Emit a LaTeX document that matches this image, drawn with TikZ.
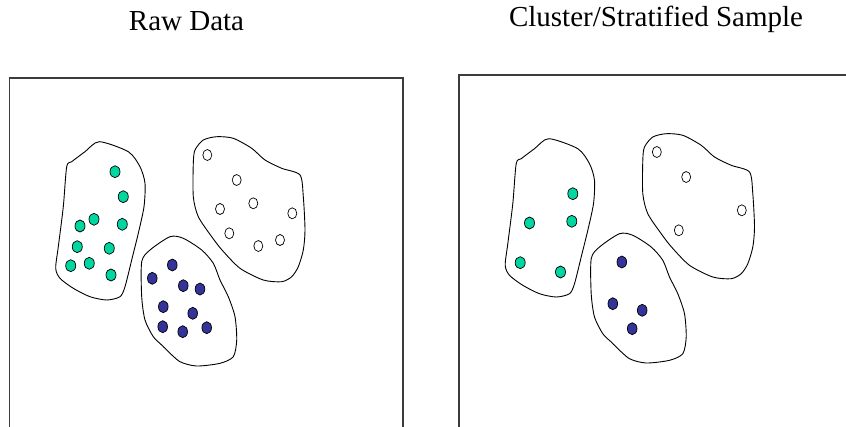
\documentclass[tikz,border=0pt]{standalone}
\usepackage{fontspec}
\setmainfont{Liberation Serif}
\definecolor{dotgreen}{RGB}{0,214,160}
\definecolor{dotblue}{RGB}{51,51,153}
\definecolor{boxgray}{RGB}{60,60,60}
\tikzset{
  panelbox/.style={draw=boxgray,line width=1.1pt},
  blob/.style={draw=black,line width=0.9pt,fill=white},
  gdot/.style={draw=black,line width=0.7pt,fill=dotgreen},
  bdot/.style={draw=black,line width=0.7pt,fill=dotblue},
  wdot/.style={draw=black,line width=0.7pt,fill=white},
  title/.style={font=\fontsize{29}{34}\selectfont,anchor=base}
}
\newcommand{\blobs}{%
  \draw[blob] plot[smooth cycle,tension=0.45] coordinates {(99.3,141.7) (128.3,151.7) (140,166.7) (145,183.3) (144,206.7) (138.3,233.3) (131.7,260) (125,286.7) (120,296.7) (106.7,300) (90,296.7) (73.3,288.3) (60,278.3) (55.7,268.3) (58.3,246.7) (63.3,206.7) (66.7,166.7) (71.7,161.7) (85,151.7)};
  \draw[blob] plot[smooth cycle,tension=0.45] coordinates {(141.7,261.7) (150,250) (170,236.7) (183.3,238.3) (201.7,250) (213.3,263.3) (220,280) (228.3,296.7) (235,316.7) (236.7,340) (233.3,356.7) (220,363.3) (196.7,366) (180,361.7) (166.7,350) (161.7,345) (153.3,336.7) (145,320) (141.7,296.7)};
  \draw[blob] plot[smooth cycle,tension=0.45] coordinates {(195,150) (203.3,140) (216.7,136.7) (233.3,138.3) (251.7,148.3) (265,160) (281.7,168.3) (300,175) (303.3,196.7) (305,230) (303.3,250) (298.3,266.7) (291.7,276.7) (281.7,281.7) (263.3,280) (240,268.3) (222,250) (211.7,236.7) (198.3,216.7) (193.3,196.7) (193.3,163.3)};
}
\begin{document}
\begin{tikzpicture}[x=1pt,y=-1pt]
\useasboundingbox (0,0) rectangle (846,426);
% titles
\node[title] (t1) at (186.5,30.7) {Raw Data};
\node[title] (t2) at (656,26.7) {Cluster/Stratified Sample};
% left panel
\draw[panelbox] (9.5,430) -- (9.5,78) -- (403,78) -- (403,430);
\begin{scope}
\blobs
\foreach \x/\y in {115/171.7,123.3/196.7,94/219.3,80/226,122.3/224.3,77.3/246.7,109.3/248.3,70.7/265.7,89.3/263.3,111/275}
  \draw[gdot] (\x,\y) ellipse [x radius=5,y radius=6];
\foreach \x/\y in {172.3/265,152.3/278.3,183.3/285.7,200/289,163.3/306.7,192.7/313.3,162.7/326.7,182.7/331.7,206.7/327.7}
  \draw[bdot] (\x,\y) ellipse [x radius=4.8,y radius=6];
\foreach \x/\y in {207.3/155,236.7/180,253.3/203.3,220/209,292.3/213.3,229.3/233.3,258.3/246,280/240}
  \draw[wdot] (\x,\y) ellipse [x radius=4.5,y radius=5.5];
\end{scope}
% right panel
\begin{scope}[shift={(449.5,-3)}]
\draw[panelbox] (9.5,433) -- (9.5,78) -- (400,78);
\blobs
\foreach \x/\y in {123.3/196.7,80/226,122.3/224.3,70.7/265.7,111/275}
  \draw[gdot] (\x,\y) ellipse [x radius=5,y radius=6];
\foreach \x/\y in {172.3/265,163.3/306.7,192.7/313.3,182.7/331.7}
  \draw[bdot] (\x,\y) ellipse [x radius=4.8,y radius=6];
\foreach \x/\y in {207.3/155,236.7/180,292.3/213.3,229.3/233.3}
  \draw[wdot] (\x,\y) ellipse [x radius=4.5,y radius=5.5];
\end{scope}
\end{tikzpicture}
\end{document}
